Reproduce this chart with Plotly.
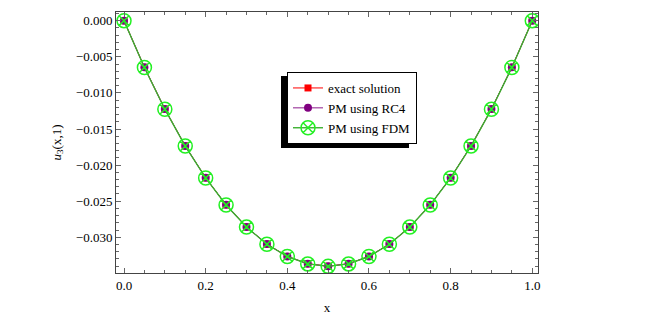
import plotly.graph_objects as go

x_vals = [0.0, 0.05, 0.1, 0.15, 0.2, 0.25, 0.3, 0.35, 0.4, 0.45, 0.5,
          0.55, 0.6, 0.65, 0.7, 0.75, 0.8, 0.85, 0.9, 0.95, 1.0]
exact = [0.0, -0.00646, -0.01224, -0.01734, -0.02176, -0.0255, -0.02856, -0.03094,
         -0.03264, -0.03366, -0.034, -0.03366, -0.03264, -0.03094, -0.02856,
         -0.0255, -0.02176, -0.01734, -0.01224, -0.00646, 0.0]
rc4 = [0.0, -0.00646, -0.01224, -0.01734, -0.02176, -0.0255, -0.02856, -0.03094,
       -0.03264, -0.03366, -0.034, -0.03366, -0.03264, -0.03094, -0.02856,
       -0.0255, -0.02176, -0.01734, -0.01224, -0.00646, 0.0]
fdm = [0.0, -0.00648, -0.01226, -0.01736, -0.02178, -0.02552, -0.02858, -0.03096,
       -0.03266, -0.03368, -0.03402, -0.03368, -0.03266, -0.03096, -0.02858,
       -0.02552, -0.02178, -0.01736, -0.01226, -0.00648, 0.0]

x_ticks = [0.0, 0.2, 0.4, 0.6, 0.8, 1.0]
y_ticks = [0.0, -0.005, -0.01, -0.015, -0.02, -0.025, -0.03]
y_ticklabels = ["0.000", "\u22120.005", "\u22120.010", "\u22120.015", "\u22120.020", "\u22120.025", "\u22120.030"]
x_ticklabels = ["0.0", "0.2", "0.4", "0.6", "0.8", "1.0"]

FONT = "Liberation Serif"
FS = 13

fig = go.Figure()
fig.add_trace(go.Scatter(x=x_vals, y=exact, name="exact solution", mode="lines+markers",
                         line=dict(color="#ff0000", width=1),
                         marker=dict(symbol="square", size=7, color="#ff0000")))
fig.add_trace(go.Scatter(x=x_vals, y=rc4, name="PM using RC4", mode="lines+markers",
                         line=dict(color="#8b1a8b", width=1),
                         marker=dict(symbol="circle", size=8, color="#800080")))
fig.add_trace(go.Scatter(x=x_vals, y=fdm, name="PM using FDM", mode="lines+markers",
                         line=dict(color="#3cb030", width=1.4),
                         marker=dict(symbol="circle-x-open", size=14, color="#22f022",
                                     line=dict(width=1.5, color="#22f022"))))

axis_common = dict(showline=True, linecolor="#444444", linewidth=1, mirror="ticks",
                   ticks="inside", ticklen=5, tickcolor="#666666", tickwidth=1,
                   showgrid=False, zeroline=False, automargin=False,
                   tickfont=dict(family=FONT, size=FS, color="#000000"))

fig.update_xaxes(range=[-0.0196, 1.014], tickvals=x_ticks, ticktext=x_ticklabels,
                 minor=dict(dtick=0.05, ticks="inside", ticklen=3, tickcolor="#666666"),
                 title=dict(text="x", font=dict(family=FONT, size=FS, color="#000000"), standoff=11),
                 **axis_common)
fig.update_yaxes(range=[-0.03494, 0.0012], tickvals=y_ticks, ticktext=y_ticklabels,
                 minor=dict(dtick=0.001, ticks="inside", ticklen=3, tickcolor="#666666"),
                 title=dict(text="<i>u</i><sub>3</sub>(x,1)", font=dict(family=FONT, size=FS, color="#000000"), standoff=11),
                 **axis_common)

# page offsets (body margin of 8px): plot area in page coords 116..538 x 12..273
L, R, T, B = 116, 538, 12, 273
PW = R - L
PH = B - T

# legend shadow (offset left/down)
fig.add_shape(type="rect", xref="paper", yref="paper",
              x0=(281 - L) / PW, x1=(409 - L) / PW,
              y0=(B - 148) / PH, y1=(B - 76) / PH,
              fillcolor="#000000", line=dict(width=0), layer="above")

fig.update_layout(
    width=646, height=308,
    margin=dict(l=108, r=116, t=4, b=43),
    paper_bgcolor="white", plot_bgcolor="white",
    showlegend=True,
    legend=dict(x=(287 - L) / PW, y=(B - 72) / PH, xanchor="left", yanchor="top",
                bgcolor="white", bordercolor="#000000", borderwidth=1,
                font=dict(family=FONT, size=FS, color="#000000"),
                tracegroupgap=0, itemwidth=30),
    font=dict(family=FONT),
)

fig.write_html("out.html")
